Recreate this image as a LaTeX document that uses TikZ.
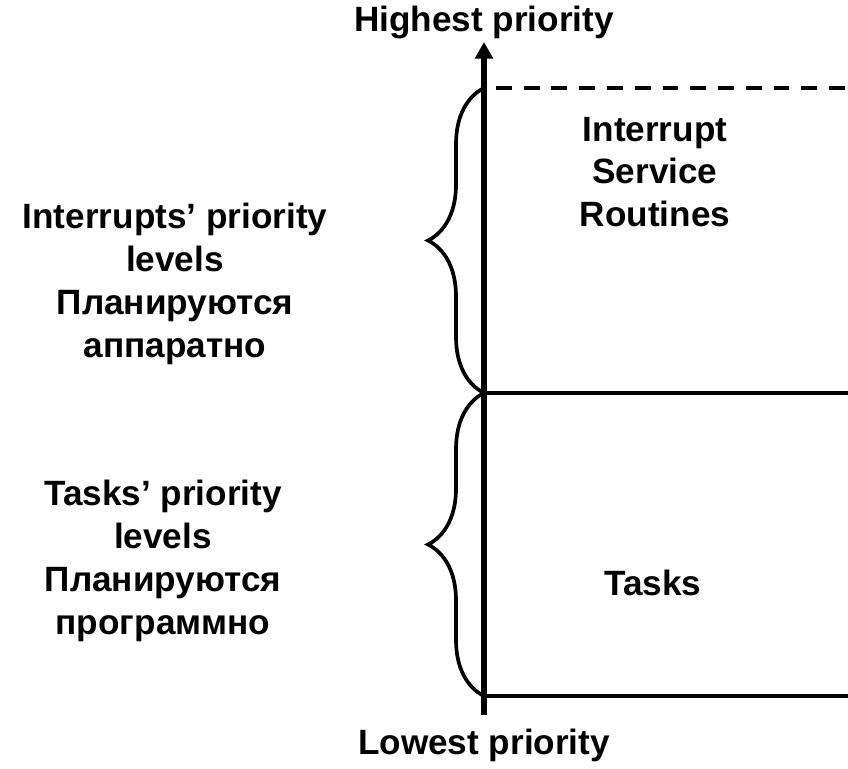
\documentclass[tikz,border=0pt]{standalone}
\usepackage{fontspec}
\setmainfont{Liberation Sans}
\usetikzlibrary{decorations.pathreplacing,arrows.meta}

\begin{document}
\begin{tikzpicture}[x=0.02cm,y=-0.02cm,
    every node/.style={font=\fontsize{20}{24.4}\selectfont\bfseries,align=center},
    level/.style={line width=2.2pt},
    bracket/.style={line width=2.1pt,decorate,
      decoration={brace,amplitude=1.12cm,aspect=0.5}}]
  \useasboundingbox (0,0) rectangle (848,768);
  % priority axis
  \coordinate (axtop) at (484,42);
  \coordinate (axbot) at (484,715);
  \coordinate (isrL) at (484,88);
  \coordinate (isrR) at (848,88);
  \coordinate (midL) at (484,393);
  \coordinate (midR) at (848,393);
  \coordinate (lowL) at (484,696);
  \coordinate (lowR) at (848,696);
  \draw[line width=3.1pt,-{Triangle[length=9.5pt,width=10pt]}] (axbot) -- (axtop);
  \draw[level,dash pattern=on 9pt off 6.8pt,dash phase=-6.8pt] (isrL) -- (isrR);
  \draw[level] (midL) -- (midR);
  \draw[level] (lowL) -- (lowR);
  % braces
  \draw[bracket] (midL) -- (isrL);
  \draw[bracket] (lowL) -- (midL);
  % labels
  \node (hi) at (484,22) {Highest priority};
  \node (lo) at (484,745) {Lowest priority};
  \node (isr) at (655,172) {Interrupt\\Service\\Routines};
  \node (tasks) at (653,583) {Tasks};
  \node (irqlev) at (175,284) {Interrupts’ priority\\levels\\Планируются\\аппаратно};
  \node (tasklev) at (163,561) {Tasks’ priority\\levels\\Планируются\\программно};
\end{tikzpicture}
\end{document}
